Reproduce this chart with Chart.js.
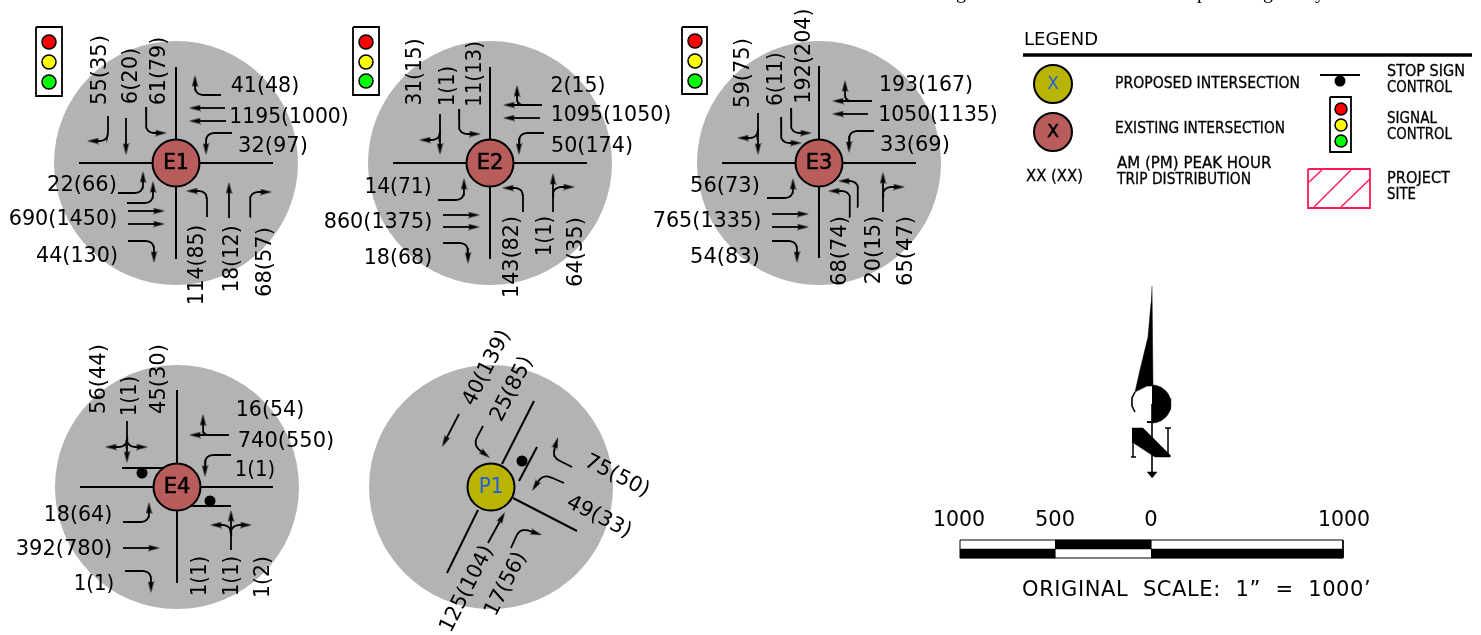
<!DOCTYPE html>
<html>
<head>
<meta charset="utf-8">
<title>Trip distribution</title>
<script src="https://cdn.jsdelivr.net/npm/chart.js@4"></script>
<style>
  html, body { margin: 0; padding: 0; background: #fff; overflow: hidden; }
  canvas { display: block; }
</style>
</head>
<body>
<canvas id="myChart" width="1481" height="635"></canvas>
<script>
// AM(PM) trips at each intersection
const e1Trips = ['41(48)','1195(1000)','32(97)','22(66)','690(1450)','44(130)','55(35)','6(20)','61(79)','114(85)','18(12)','68(57)'];
const e2Trips = ['2(15)','1095(1050)','50(174)','14(71)','860(1375)','18(68)','31(15)','1(1)','11(13)','143(82)','1(1)','64(35)'];
const e3Trips = ['193(167)','1050(1135)','33(69)','56(73)','765(1335)','54(83)','59(75)','6(11)','192(204)','68(74)','20(15)','65(47)'];
const e4Trips = ['16(54)','740(550)','1(1)','18(64)','392(780)','1(1)','56(44)','1(1)','45(30)','1(1)','1(1)','1(2)'];
const p1Trips = ['40(139)','25(85)','75(50)','49(33)','125(104)','17(56)'];
const scaleTicks = ['1000','500','0','1000'];
const legendTitle = 'LEGEND';
const legendNotes = ['PROPOSED INTERSECTION','EXISTING INTERSECTION','XX (XX)','AM (PM) PEAK HOUR','TRIP DISTRIBUTION','STOP SIGN','CONTROL','SIGNAL','CONTROL','PROJECT','SITE'];
const scaleNote = 'ORIGINAL  SCALE:  1\u201D  =  1000\u2019';

// where those texts sit: x, y, rotation
const e1Spots = [[265,84,0],[289,115,0],[273,144,0],[82,183,0],[63,217,0],[77,254,0],[98,70,-90],[129,76,-90],[157,71,-90],[195,265,-90],[230,259,-90],[263,262,-90]];
const e2Spots = [[578,84,0],[611,113,0],[592,144,0],[398,185,0],[378,220,0],[398,256,0],[413,72,-90],[446,86,-90],[473,74,-90],[510,257,-90],[543,236,-90],[574,252,-90]];
const e3Spots = [[926,83,0],[938,113,0],[915,143,0],[725,184,0],[707,219,0],[725,255,0],[741,73,-90],[774,79,-90],[802,56,-90],[838,251,-90],[872,250,-90],[904,251,-90]];
const e4Spots = [[270,408,0],[286,439,0],[255,468,0],[78,513,0],[64,547,0],[94,582,0],[97,379,-90],[128,396,-90],[157,379,-90],[198,576,-90],[230,576,-90],[261,577,-90]];
const p1Spots = [[485,367,-63],[510,388,-63],[618,474,27],[600,515,27],[465,588,-63],[504,583,-63]];
const scaleTickSpots = [[959,518],[1055,518],[1151,518],[1344,518]];
const legendSpots = [[1115,83,185],[1115,128,170],[1026,176,57],[1117,163,158],[1117,179,134],[1387,71,78],[1387,87,65],[1387,118,50],[1387,134,65],[1387,178,63],[1387,194,29]];

// intersections
const discs = [[176,163],[490,163],[819,163],[177,487],[491,487]];
const nodeNames = ['E1','E2','E3','E4','P1'];
const nodeSpots = [[176,163,'e'],[490,163,'e'],[819,163,'e'],[177,487,'e'],[491,487,'p']];

const roads = [
  [[176,67],[176,259]],[[79,163],[273,163]],
  [[490,67],[490,259]],[[393,163],[587,163]],
  [[819,66],[819,258]],[[722,163],[916,163]],
  [[177,390],[177,583]],[[80,487],[273,487]],
  [[534,401],[502,464]],[[478,510],[447,573]],[[513,498],[577,531]]
];
const stopBars = [[[122,468],[163,468]],[[190,506],[231,506]],[[537,447],[519,481]]];
const stopDots = [[142,473],[210,501],[522,461],[1340,81]];

// movement arrows, the last vertex is the tip
const arrows = [
  // E1
  [[221,95],[195,95],[195,75]],[[225,108],[189,108]],[[226,121],[189,121]],[[232,133],[206,133],[206,155]],
  [[108,116],[108,141],[87,141]],[[126,118],[126,155]],[[146,107],[146,133],[167,133]],
  [[118,193],[143,193],[143,171]],[[127,203],[153,203],[153,181]],[[128,211],[165,211]],[[128,224],[165,224]],[[128,241],[154,241],[154,263]],
  [[207,217],[207,191],[186,191]],[[229,218],[229,182]],[[250,217],[250,192],[272,192]],
  // E2
  [[542,105],[503,105]],[[525,105],[517,105],[517,85]],[[540,118],[503,118]],[[544,133],[519,133],[519,155]],
  [[440,114],[440,155]],[[440,130],[440,140],[419,140]],[[459,109],[459,134],[481,134]],
  [[438,200],[464,200],[464,178]],[[443,215],[480,215]],[[443,227],[480,227]],[[443,243],[468,243],[468,264]],
  [[523,212],[523,188],[502,188]],[[553,212],[553,173]],[[553,197],[553,187],[575,187]],
  // E3
  [[872,101],[832,101]],[[853,101],[845,101],[845,80]],[[868,114],[832,114]],[[874,131],[849,131],[849,153]],
  [[758,113],[758,155]],[[758,128],[758,138],[737,138]],[[781,117],[781,143],[802,143]],[[791,108],[791,133],[812,133]],
  [[767,198],[793,198],[793,178]],[[772,214],[809,214]],[[772,227],[809,227]],[[772,241],[797,241],[797,263]],
  [[850,217],[850,191],[828,191]],[[858,207],[858,181],[838,181]],[[883,212],[883,172]],[[883,197],[883,187],[905,187]],
  // E4
  [[229,435],[189,435]],[[210,435],[203,435],[203,414]],[[231,455],[205,455],[205,477]],
  [[127,421],[127,463]],[[127,437],[127,447],[105,447]],[[127,437],[127,447],[148,447]],
  [[231,550],[231,510]],[[231,535],[231,525],[210,525]],[[231,535],[231,525],[252,525]],
  [[123,522],[149,522],[149,502]],[[123,548],[160,548]],[[125,571],[151,571],[151,593]],
  // P1
  [[459,414],[442,447]],[[483,426],[473,445],[490,458]],[[572,467],[552,457],[558,437]],[[564,483],[543,474],[532,491]],
  [[488,543],[505,512]],[[511,548],[520,528],[542,535]]
];

// signal heads: box corners then lamp centres
const signals = [
  [36,27,62,96,49,[42,62,82],7],
  [353,27,379,95,366,[42,62,81],7],
  [682,27,707,94,695,[41,61,81],7],
  [1330,97,1351,152,1341,[109,125,141],6]
];
const lampColors = ['#ff0000','#ffff00','#00ff00'];

const siteBox = [[1308,169],[1370,169],[1370,208],[1308,208],[1308,169]];
const siteHatch = [[[1309,182],[1322,170]],[[1314,207],[1351,170]],[[1341,207],[1370,179]]];

const DISC_GREY = '#b3b3b3', EXISTING = '#b85c5c', PROPOSED = '#b8b400', SITE_RED = '#ff1a55', BLUE = '#1f5fe0';
const FONT = '"DejaVu Sans"';

const datasets = [];
function add(ds) {
  ds.order = 10000 - datasets.length; // later ones paint over earlier ones
  datasets.push(ds);
}
const xy = pts => pts.map(p => ({x: p[0], y: p[1]}));

function stroke(pts, width, color) {
  add({data: xy(pts), showLine: true, borderColor: color || '#000', borderWidth: width, pointRadius: 0, fill: false, tension: 0});
}
function solid(pts, color) {
  add({data: xy(pts), showLine: true, borderColor: color || '#000', borderWidth: 0.5, backgroundColor: color || '#000', pointRadius: 0, fill: 'shape', tension: 0});
}
function dot(pts, radius, color, edge, edgeWidth) {
  add({data: xy(pts), showLine: false, pointRadius: radius, pointBackgroundColor: color, pointBorderColor: edge || color, pointBorderWidth: edgeWidth || 0});
}

// round the elbow of a turning arrow
function elbow(path, r) {
  if (path.length < 3) return path;
  const [a, b, c] = path;
  const la = Math.hypot(a[0]-b[0], a[1]-b[1]), lc = Math.hypot(c[0]-b[0], c[1]-b[1]);
  const rr = Math.min(r, la * 0.9, lc * 0.9);
  const p = [b[0] + (a[0]-b[0]) * rr / la, b[1] + (a[1]-b[1]) * rr / la];
  const q = [b[0] + (c[0]-b[0]) * rr / lc, b[1] + (c[1]-b[1]) * rr / lc];
  const out = [a];
  for (let i = 0; i <= 8; i++) {
    const t = i / 8;
    out.push([(1-t)*(1-t)*p[0] + 2*t*(1-t)*b[0] + t*t*q[0], (1-t)*(1-t)*p[1] + 2*t*(1-t)*b[1] + t*t*q[1]]);
  }
  out.push(c);
  return out;
}
function arc(cx, cy, r, a0, a1) {
  const out = [];
  for (let i = 0; i <= 30; i++) {
    const a = (a0 + (a1 - a0) * i / 30) * Math.PI / 180;
    out.push([cx + r * Math.cos(a), cy + r * Math.sin(a)]);
  }
  return out;
}

// arrow head sprite, points along +x
const head = document.createElement('canvas');
head.width = 12; head.height = 7;
(() => {
  const c = head.getContext('2d');
  c.fillStyle = '#000';
  c.beginPath(); c.moveTo(12, 3.5); c.lineTo(0, 0.6); c.lineTo(2, 3.5); c.lineTo(0, 6.4); c.closePath(); c.fill();
})();

// grey discs
dot(discs, 122, DISC_GREY);

roads.forEach(r => stroke(r, 2));
stopBars.forEach(r => stroke(r, 2));
dot(stopDots, 5.5, '#000');

const heads = [], headAngles = [];
arrows.forEach(path => {
  const n = path.length, tip = path[n-1], from = path[n-2];
  const ang = Math.atan2(tip[1]-from[1], tip[0]-from[0]);
  const back = [tip[0] - 6 * Math.cos(ang), tip[1] - 6 * Math.sin(ang)];
  stroke(elbow(path.slice(0, n-1).concat([back]), 9), 1.8);
  heads.push(back);
  headAngles.push(ang * 180 / Math.PI);
});
add({data: xy(heads), showLine: false, pointStyle: head, pointRadius: 6, pointRotation: headAngles});

// intersection circles
dot(nodeSpots.filter(n => n[2] === 'e'), 23.5, EXISTING, '#000', 2);
dot(nodeSpots.filter(n => n[2] === 'p'), 23.5, PROPOSED, '#000', 2);
dot([[1053,84]], 19, PROPOSED, '#000', 2);
dot([[1053,132]], 19, EXISTING, '#000', 2);

// signal heads
signals.forEach(s => {
  stroke([[s[0],s[1]],[s[2],s[1]],[s[2],s[3]],[s[0],s[3]],[s[0],s[1]]], 1.8);
  s[5].forEach((y, i) => dot([[s[4], y]], s[6], lampColors[i], '#000', 1.5));
});

// legend rule, stop sign sample, project site
stroke([[1023,55],[1472,55]], 3.4);
stroke([[1320,75],[1360,75]], 2);
stroke(siteBox, 1.8, SITE_RED);
siteHatch.forEach(h => stroke(h, 1.5, SITE_RED));

// scale bar
solid([[1055,540],[1151,540],[1151,549],[1055,549]]);
solid([[960,549],[1055,549],[1055,558],[960,558]]);
solid([[1151,549],[1343,549],[1343,558],[1151,558]]);
stroke([[960,540],[1343,540],[1343,558],[960,558],[960,540]], 1);

// north arrow
solid([[1152,286],[1153,386],[1147,386],[1141,389],[1135,392],[1140,370],[1148,337],[1151,303]]);
solid(arc(1152,404,19,-90,90));
stroke([[1135,392],[1132,398],[1132,406],[1135,412]], 1.6);
stroke([[1147,422],[1152,422]], 2);
stroke([[1152,404],[1152,474]], 1.6);
solid([[1147,472],[1157,472],[1152,478]]);
solid([[1132,428],[1143,428],[1170,455],[1170,457],[1155,457],[1132,442]]);
stroke([[1133,428],[1133,457]], 1.5);
stroke([[1131,457],[1136,457]], 1.5);
stroke([[1168,428],[1168,457]], 1.5);
stroke([[1165,428],[1171,428]], 1.5);

const textDraw = {
  id: 'textDraw',
  afterDatasetsDraw(chart) {
    const ctx = chart.ctx, sx = chart.scales.x, sy = chart.scales.y;
    function put(str, x, y, opt) {
      opt = opt || {};
      const dy = opt.dy === undefined ? 2.5 : opt.dy;
      ctx.save();
      ctx.translate(sx.getPixelForValue(x), sy.getPixelForValue(y));
      ctx.rotate((opt.rot || 0) * Math.PI / 180);
      ctx.font = (opt.size || 21) + 'px ' + (opt.family || FONT);
      ctx.fillStyle = ctx.strokeStyle = opt.color || '#000';
      ctx.textAlign = opt.align || 'center';
      ctx.textBaseline = 'middle';
      if (opt.spacing) ctx.letterSpacing = opt.spacing;
      // the drawing's 1 is narrower than the font's
      let w = opt.width;
      if (!w && !opt.family) w = ctx.measureText(str).width - 1.3 * (str.split('1').length - 1);
      ctx.fillText(str, 0, dy, w);
      if (opt.heavy) {
        ctx.lineWidth = opt.heavy;
        ctx.strokeText(str, 0, dy, w);
      }
      ctx.restore();
    }
    [[e1Trips,e1Spots],[e2Trips,e2Spots],[e3Trips,e3Spots],[e4Trips,e4Spots],[p1Trips,p1Spots]].forEach(([t, s]) => {
      t.forEach((str, i) => put(str, s[i][0], s[i][1], {rot: s[i][2]}));
    });
    nodeNames.forEach((n, i) => put(n, nodeSpots[i][0], nodeSpots[i][1], {dy: 1, color: nodeSpots[i][2] === 'p' ? BLUE : '#000', heavy: nodeSpots[i][2] === 'p' ? 0 : 0.6}));
    put('X', 1053, 84, {dy: 1, size: 17, color: BLUE});
    put('X', 1053, 132, {dy: 1, size: 17, heavy: 0.6});
    scaleTicks.forEach((t, i) => put(t, scaleTickSpots[i][0], scaleTickSpots[i][1]));
    put(scaleNote, 1022, 589, {dy: 1.5, align: 'left', width: 350, spacing: '0.6px'});
    put(legendTitle, 1024, 39, {dy: 1.5, align: 'left', size: 18, width: 74});
    legendNotes.forEach((t, i) => put(t, legendSpots[i][0], legendSpots[i][1], {dy: 1.5, align: 'left', size: 15, width: legendSpots[i][2], heavy: 0.3}));
    // tails of the line cut off at the top of the page
    [['g',961],['p',1202],['g',1268],['y',1320]].forEach(([c, x]) => put(c, x, -7, {dy: 0, size: 20, family: '"Liberation Serif"'}));
  }
};

new Chart('myChart', {
  type: 'scatter',
  data: {datasets: datasets},
  options: {
    responsive: false,
    animation: false,
    events: [],
    layout: {padding: 0, autoPadding: false},
    plugins: {legend: {display: false}, tooltip: {enabled: false}},
    scales: {
      x: {type: 'linear', min: 0, max: 1481, display: false},
      y: {type: 'linear', min: 0, max: 635, reverse: true, display: false}
    }
  },
  plugins: [textDraw]
});
</script>
</body>
</html>
